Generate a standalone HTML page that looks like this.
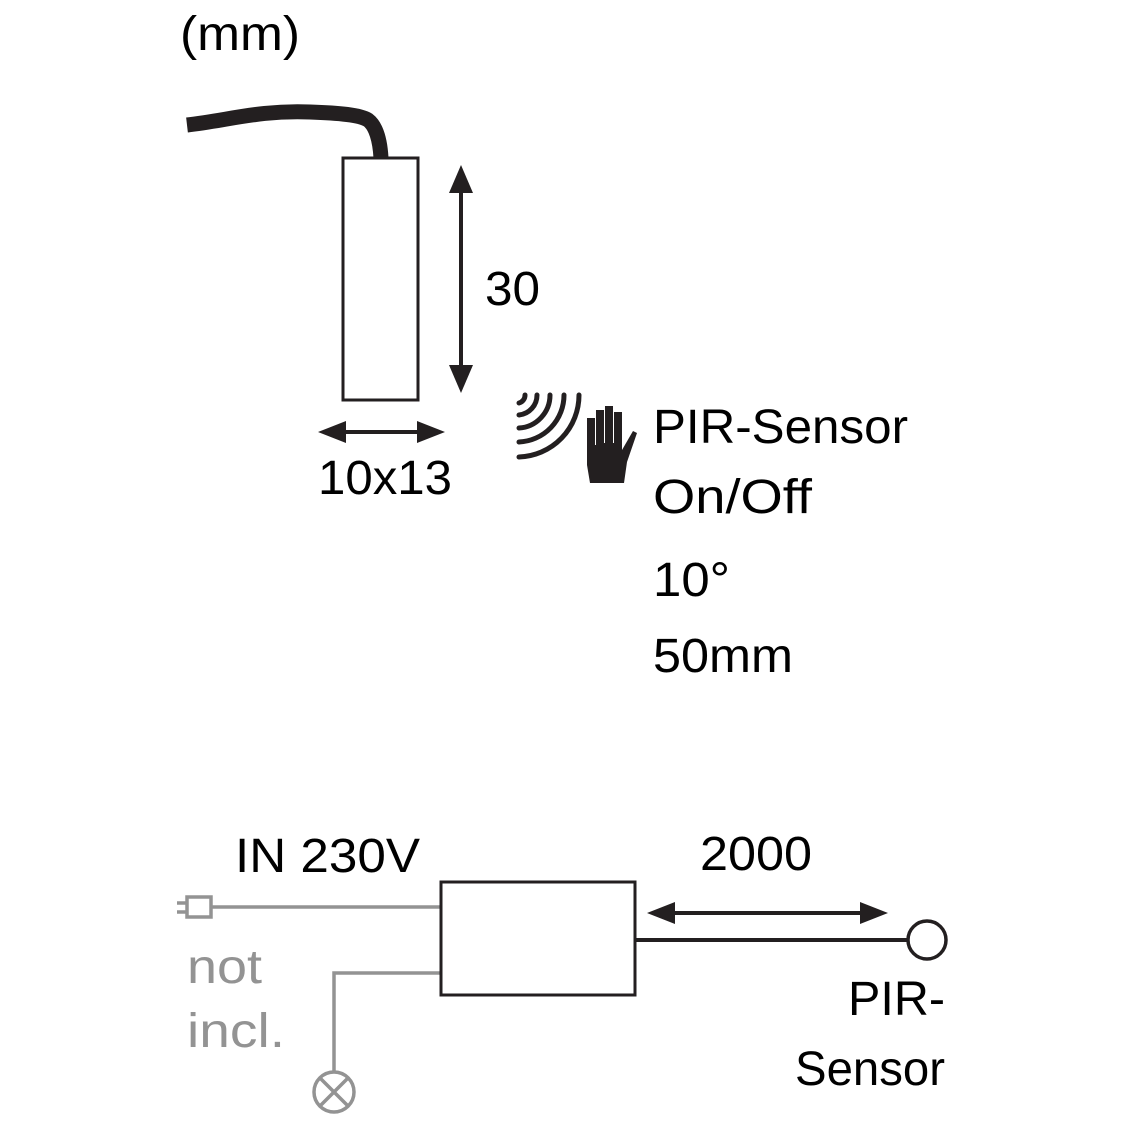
<!DOCTYPE html>
<html><head><meta charset="utf-8"><style>
html,body{margin:0;padding:0;background:#fff;}
svg{display:block;}
text{font-family:"Liberation Sans",sans-serif;font-size:48px;}
</style></head><body>
<svg width="1123" height="1122" viewBox="0 0 1123 1122" xmlns="http://www.w3.org/2000/svg">
<text x="180" y="50" textLength="120" lengthAdjust="spacingAndGlyphs">(mm)</text>
<path d="M187,125 C230,120 260,110 310,112 C340,113 360,115 368,120 C376,126 380,140 381,158" fill="none" stroke="#231f20" stroke-width="15"/>
<rect x="343" y="158" width="75" height="242" fill="none" stroke="#231f20" stroke-width="3"/>
<line x1="461" y1="185" x2="461" y2="375" stroke="#231f20" stroke-width="4"/>
<polygon points="461,165 449,193 473,193" fill="#231f20"/>
<polygon points="461,393 449,365 473,365" fill="#231f20"/>
<text x="485" y="305" textLength="55" lengthAdjust="spacingAndGlyphs">30</text>
<line x1="335" y1="432" x2="428" y2="432" stroke="#231f20" stroke-width="4"/>
<polygon points="318,432 346,421 346,443" fill="#231f20"/>
<polygon points="445,432 417,421 417,443" fill="#231f20"/>
<text x="318" y="494" textLength="134" lengthAdjust="spacingAndGlyphs">10x13</text>
<g fill="none" stroke="#231f20" stroke-width="5" stroke-linecap="round">
<path d="M519,403 A8,8 0 0 0 525,395"/>
<path d="M519,415 A20,20 0 0 0 537,395"/>
<path d="M519,428 A33,33 0 0 0 550,395"/>
<path d="M519,442 A47,47 0 0 0 564,395"/>
<path d="M519,457 A62,62 0 0 0 579,395"/>
</g>
<path d="M587,418 L595,418 L595,445 L596,445 L596,410 L604,410 L604,443 L605,443 L605,406 L613,406 L613,443 L614,443 L614,412 L622,412 L622,450 L633,431 L637,433 L627,462 L624,483 L590,483 L587,465 Z" fill="#231f20"/>
<text x="653" y="443" textLength="255" lengthAdjust="spacingAndGlyphs">PIR-Sensor</text>
<text x="653" y="513" textLength="159" lengthAdjust="spacingAndGlyphs">On/Off</text>
<text x="653" y="596" textLength="77" lengthAdjust="spacingAndGlyphs">10°</text>
<text x="653" y="672" textLength="140" lengthAdjust="spacingAndGlyphs">50mm</text>
<text x="235" y="872" textLength="185" lengthAdjust="spacingAndGlyphs">IN 230V</text>
<text x="700" y="870" textLength="112" lengthAdjust="spacingAndGlyphs">2000</text>
<g stroke="#939393" stroke-width="3.5" fill="none">
<rect x="187" y="897" width="24" height="20"/>
<line x1="177" y1="903" x2="187" y2="903"/>
<line x1="177" y1="912" x2="187" y2="912"/>
<line x1="211" y1="907" x2="441" y2="907"/>
<polyline points="441,973 334,973 334,1072"/>
<circle cx="334" cy="1092" r="20"/>
<line x1="320" y1="1078" x2="348" y2="1106"/>
<line x1="348" y1="1078" x2="320" y2="1106"/>
</g>
<text x="187" y="983" fill="#939393" textLength="75" lengthAdjust="spacingAndGlyphs">not</text>
<text x="187" y="1047" fill="#939393" textLength="98" lengthAdjust="spacingAndGlyphs">incl.</text>
<rect x="441" y="882" width="194" height="113" fill="none" stroke="#231f20" stroke-width="3"/>
<line x1="635" y1="940" x2="908" y2="940" stroke="#231f20" stroke-width="4"/>
<circle cx="927" cy="940" r="19" fill="none" stroke="#231f20" stroke-width="3.5"/>
<line x1="670" y1="913" x2="865" y2="913" stroke="#231f20" stroke-width="4"/>
<polygon points="647,913 675,902 675,924" fill="#231f20"/>
<polygon points="888,913 860,902 860,924" fill="#231f20"/>
<text x="848" y="1015" textLength="97" lengthAdjust="spacingAndGlyphs">PIR-</text>
<text x="795" y="1085" textLength="150" lengthAdjust="spacingAndGlyphs">Sensor</text>
</svg>
</body></html>
